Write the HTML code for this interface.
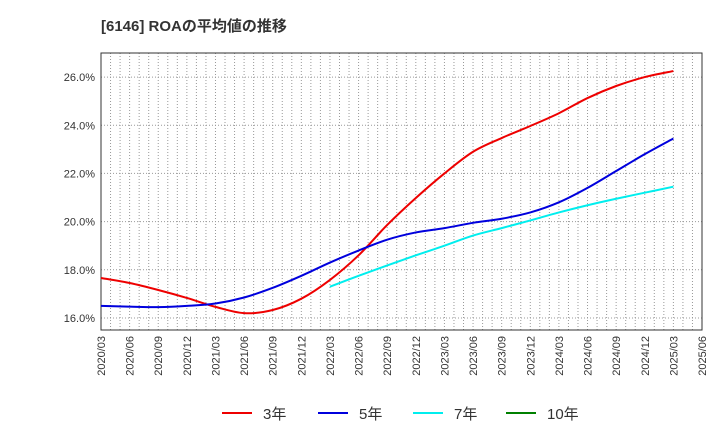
<!DOCTYPE html>
<html><head><meta charset="utf-8"><style>
body{margin:0;background:#fff;font-family:"Liberation Sans","Noto Sans CJK JP",sans-serif;}
svg text{font-family:"Liberation Sans","Noto Sans CJK JP",sans-serif;}
</style></head><body>
<svg id="chart" width="720" height="440">
<text x="101" y="31" font-size="15" font-weight="bold" fill="#333">[6146]  ROAの平均値の推移</text>
<g id="grid"></g><g id="axes"></g><g id="series"></g><g id="legend"></g>
</svg>
<script>
const xLabels=["2020/03","2020/06","2020/09","2020/12","2021/03","2021/06","2021/09","2021/12","2022/03","2022/06","2022/09","2022/12","2023/03","2023/06","2023/09","2023/12","2024/03","2024/06","2024/09","2024/12","2025/03","2025/06"];
const yTicks=[16,18,20,22,24,26];
const series3=[17.66,17.45,17.16,16.83,16.46,16.2,16.33,16.8,17.58,18.6,19.86,20.98,22.0,22.9,23.47,23.97,24.5,25.13,25.63,26.0,26.25];
const series5=[16.5,16.47,16.45,16.5,16.6,16.85,17.25,17.75,18.3,18.8,19.25,19.55,19.73,19.95,20.12,20.38,20.8,21.4,22.1,22.8,23.45];
const series7=[null,null,null,null,null,null,null,null,17.3,17.75,18.18,18.6,19.0,19.42,19.73,20.05,20.38,20.68,20.95,21.2,21.45];
const series10=[];
const L=101,R=702,T=53,B=330,yMin=15.5,yMax=27.0;
const NS="http://www.w3.org/2000/svg";
function xq(i){return L+(R-L)*i/(xLabels.length-1);}
function y(v){return B-(v-yMin)/(yMax-yMin)*(B-T);}
function mk(tag,attrs,parent){const e=document.createElementNS(NS,tag);for(const k in attrs)e.setAttribute(k,attrs[k]);parent.appendChild(e);return e;}
const grid=document.getElementById('grid'),axes=document.getElementById('axes'),ser=document.getElementById('series'),leg=document.getElementById('legend');
const bg=mk('rect',{x:L,y:T,width:R-L,height:B-T,fill:'#fff'},grid);


for(let m=1;m<(xLabels.length-1)*3;m++){const x=L+(R-L)*m/((xLabels.length-1)*3);
 const g=mk('line',{x1:x,x2:x,y1:T,y2:B,stroke:'#999','stroke-dasharray':'1,2','stroke-width':1},grid);
 
 }
yTicks.forEach(v=>{const g=mk('line',{x1:L,x2:R,y1:y(v),y2:y(v),stroke:'#999','stroke-dasharray':'1,2'},grid);
 
 
 const t=mk('text',{x:L-6,y:y(v)+4,'text-anchor':'end','font-size':11,fill:'#333'},axes);t.textContent=v.toFixed(1)+'%';
 
 });
xLabels.forEach((s,i)=>{const x=xq(i);const t=mk('text',{transform:`translate(${x+4},${B+6}) rotate(-90)`,'text-anchor':'end','font-size':11,fill:'#333'},axes);t.textContent=s;
 
 });
const fr=mk('rect',{x:L,y:T,width:R-L,height:B-T,fill:'none',stroke:'#333'},axes);


function path(arr){const p=[];arr.forEach((v,i)=>{if(v!=null)p.push([xq(i),y(v)]);});if(p.length<2)return'';
 let d=`M${p[0][0]},${p[0][1]}`;for(let i=0;i<p.length-1;i++){const p0=p[Math.max(0,i-1)],p1=p[i],p2=p[i+1],p3=p[Math.min(p.length-1,i+2)];
 d+=` C${p1[0]+(p2[0]-p0[0])/6},${p1[1]+(p2[1]-p0[1])/6} ${p2[0]-(p3[0]-p1[0])/6},${p2[1]-(p3[1]-p1[1])/6} ${p2[0]},${p2[1]}`;}return d;}
[[series3,'#ee0000','series-3yr'],[series5,'#0000dd','series-5yr'],[series7,'#00eeee','series-7yr'],[series10,'#008000','series-10yr']].forEach(([a,c,n])=>{
 const d=path(a);if(!d)return;const e=mk('path',{d:d,fill:'none',stroke:c,'stroke-width':2},ser);
 
 });
[['3年','#ee0000',222],['5年','#0000dd',318],['7年','#00eeee',413],['10年','#008000',506]].forEach(([t,c,x])=>{
 const l=mk('line',{x1:x,x2:x+30,y1:413,y2:413,stroke:c,'stroke-width':2},leg);
 
 
 const tx=mk('text',{x:x+41,y:419,'font-size':15,fill:'#333'},leg);tx.textContent=t;
 
 });
</script>
</body></html>
